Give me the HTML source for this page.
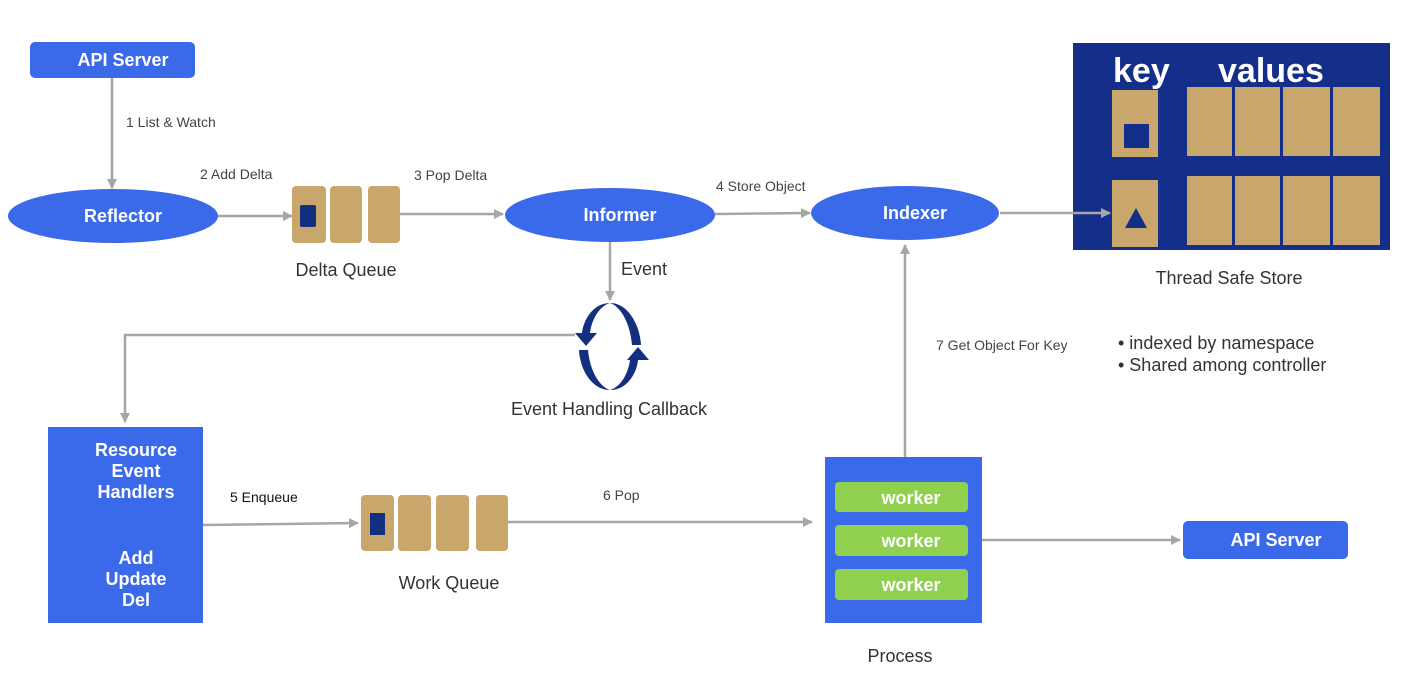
<!DOCTYPE html>
<html><head><meta charset="utf-8"><style>
html,body{margin:0;padding:0;background:#fff;}
svg{display:block;font-family:"Liberation Sans",sans-serif;}
.b{font-weight:bold;fill:#fff;}
.l{fill:#444;font-size:14px;}
.c{fill:#333;font-size:18px;}
</style></head><body>
<svg width="1405" height="677" viewBox="0 0 1405 677" xmlns="http://www.w3.org/2000/svg">
<defs><marker id="a" markerWidth="10" markerHeight="10" refX="9" refY="5" orient="auto" markerUnits="userSpaceOnUse"><path d="M0,0 L10,5 L0,10 z" fill="#a6a6a6"/></marker></defs>
<rect x="1073" y="43" width="317" height="207" fill="#142f8a"/>
<g stroke="#a6a6a6" stroke-width="2.5" fill="none" marker-end="url(#a)">
<line x1="112" y1="78" x2="112" y2="188"/>
<line x1="218" y1="216" x2="292" y2="216"/>
<line x1="400" y1="214" x2="503" y2="214"/>
<line x1="715" y1="214" x2="810" y2="213"/>
<line x1="1000" y1="213" x2="1110" y2="213"/>
<line x1="610" y1="242" x2="610" y2="300"/>
<polyline points="575,335 125,335 125,422"/>
<line x1="203" y1="525" x2="358" y2="523"/>
<line x1="508" y1="522" x2="812" y2="522"/>
<line x1="982" y1="540" x2="1180" y2="540"/>
<line x1="905" y1="457" x2="905" y2="245"/>
</g>
<rect x="30" y="42" width="165" height="36" rx="5" fill="#3a69ea"/>
<text x="123" y="66" class="b" font-size="18" text-anchor="middle">API  Server</text>
<text x="126" y="127" class="l">1 List &amp; Watch</text>
<ellipse cx="113" cy="216" rx="105" ry="27" fill="#3a69ea"/>
<text x="123" y="222" class="b" font-size="18" text-anchor="middle">Reflector</text>
<text x="200" y="179" class="l">2 Add Delta</text>
<g fill="#c9a66b"><rect x="292" y="186" width="34" height="57" rx="4"/><rect x="330" y="186" width="32" height="57" rx="4"/><rect x="368" y="186" width="32" height="57" rx="4"/></g>
<rect x="300" y="205" width="16" height="22" rx="2" fill="#12307f"/>
<text x="346" y="276" class="c" text-anchor="middle">Delta Queue</text>
<text x="414" y="180" class="l">3 Pop Delta</text>
<ellipse cx="610" cy="215" rx="105" ry="27" fill="#3a69ea"/>
<text x="620" y="221" class="b" font-size="18" text-anchor="middle">Informer</text>
<text x="716" y="191" class="l">4 Store Object</text>
<ellipse cx="905" cy="213" rx="94" ry="27" fill="#3a69ea"/>
<text x="915" y="219" class="b" font-size="18" text-anchor="middle">Indexer</text>
<text x="1113" y="82" class="b" font-size="34">key</text>
<text x="1218" y="82" class="b" font-size="34">values</text>
<g fill="#c9a66b">
<rect x="1112" y="90" width="46" height="67"/><rect x="1112" y="180" width="46" height="67"/>
<rect x="1187" y="87" width="45" height="69"/><rect x="1235" y="87" width="45" height="69"/><rect x="1283" y="87" width="47" height="69"/><rect x="1333" y="87" width="47" height="69"/>
<rect x="1187" y="176" width="45" height="69"/><rect x="1235" y="176" width="45" height="69"/><rect x="1283" y="176" width="47" height="69"/><rect x="1333" y="176" width="47" height="69"/>
</g>
<rect x="1124" y="124" width="25" height="24" fill="#142f8a"/>
<polygon points="1136,208 1147,228 1125,228" fill="#142f8a"/>
<text x="1229" y="284" class="c" text-anchor="middle">Thread Safe Store</text>
<text x="621" y="275" class="c">Event</text>
<g fill="#12307f">
<path d="M610,303 C628,303 640,325 641,345 L632,345 C630,322 620,306 610,303 Z"/>
<path d="M610,303 C592,303 583,322 582,333 L590,333 C592,318 600,306 610,303 Z"/>
<polygon points="575,333 597,333 586,346"/>
<path d="M610,390 C592,390 580,370 579,350 L588,350 C590,372 600,387 610,390 Z"/>
<path d="M610,390 C628,390 637,372 638,360 L630,360 C628,375 620,387 610,390 Z"/>
<polygon points="627,360 649,360 638,347"/>
</g>
<text x="609" y="415" class="c" text-anchor="middle">Event Handling Callback</text>
<rect x="48" y="427" width="155" height="196" fill="#3a69ea"/>
<g class="b" font-size="18" text-anchor="middle">
<text x="136" y="456">Resource</text><text x="136" y="477">Event</text><text x="136" y="498">Handlers</text>
<text x="136" y="564">Add</text><text x="136" y="585">Update</text><text x="136" y="606">Del</text>
</g>
<text x="230" y="502" font-size="14" fill="#111">5 Enqueue</text>
<g fill="#c9a66b"><rect x="361" y="495" width="33" height="56" rx="4"/><rect x="398" y="495" width="33" height="56" rx="4"/><rect x="436" y="495" width="33" height="56" rx="4"/><rect x="476" y="495" width="32" height="56" rx="4"/></g>
<rect x="370" y="513" width="15" height="22" fill="#12307f"/>
<text x="449" y="589" class="c" text-anchor="middle">Work Queue</text>
<text x="603" y="500" class="l">6 Pop</text>
<rect x="825" y="457" width="157" height="166" fill="#3a69ea"/>
<g fill="#8fd14f"><rect x="835" y="482" width="133" height="30" rx="4"/><rect x="835" y="525" width="133" height="31" rx="4"/><rect x="835" y="569" width="133" height="31" rx="4"/></g>
<g class="b" font-size="18" text-anchor="middle"><text x="911" y="504">worker</text><text x="911" y="547">worker</text><text x="911" y="591">worker</text></g>
<text x="900" y="662" class="c" text-anchor="middle">Process</text>
<text x="936" y="350" class="l">7 Get Object For Key</text>
<text x="1118" y="349" class="c">•  indexed by namespace</text>
<text x="1118" y="371" class="c">•  Shared among controller</text>
<rect x="1183" y="521" width="165" height="38" rx="5" fill="#3a69ea"/>
<text x="1276" y="546" class="b" font-size="18" text-anchor="middle">API  Server</text>
</svg>
</body></html>
